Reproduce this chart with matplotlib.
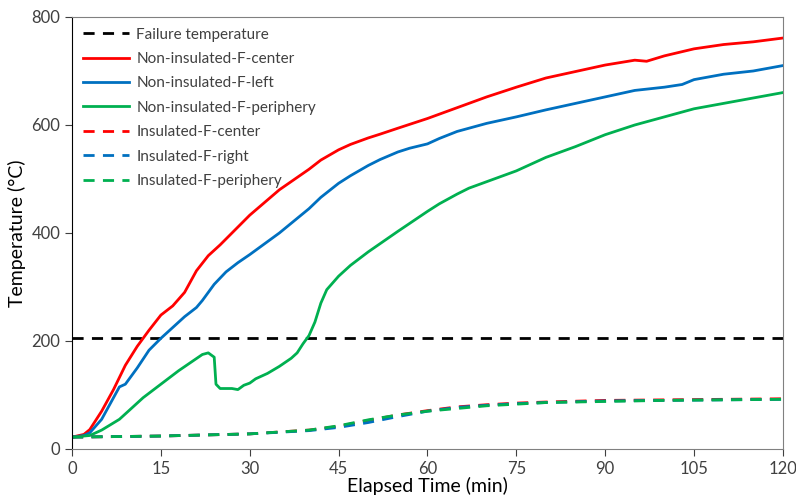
import matplotlib.pyplot as plt

# Non-insulated readings (time in min, temperature in °C)
t_nc = [0, 2, 3, 5, 7, 9, 11, 13, 15, 17, 19, 21, 23, 25, 30, 35, 40, 42, 45, 47, 50, 52, 55,
        60, 65, 70, 75, 80, 85, 90, 95, 97, 100, 105, 110, 115, 120]
nc_center = [22, 27, 36, 70, 110, 155, 190, 220, 248, 265, 290, 330, 358, 378, 433, 480, 518,
             535, 554, 564, 576, 583, 594, 612, 632, 652, 670, 687, 699, 711, 720, 718, 728, 741,
             749, 754, 761]

t_nl = [0, 2, 3, 5, 7, 8, 9, 11, 13, 15, 17, 19, 21, 22, 24, 26, 28, 30, 35, 40, 42, 45, 47,
        50, 52, 55, 57, 60, 62, 65, 70, 75, 80, 85, 90, 95, 100, 103, 105, 110, 115, 120]
nc_left = [22, 25, 30, 55, 95, 115, 120, 150, 183, 205, 225, 245, 262, 275, 305, 328, 345, 360,
           400, 445, 466, 492, 506, 525, 536, 550, 557, 565, 575, 588, 603, 615, 628, 640, 652,
           664, 670, 675, 684, 694, 700, 710]

t_np = [0, 3, 5, 8, 10, 12, 15, 18, 20, 22, 23, 24, 24.3, 25, 27, 28, 29, 30, 31, 33, 35, 37,
        38, 39, 40, 41, 42, 43, 45, 47, 50, 55, 60, 62, 65, 67, 70, 75, 80, 85, 90, 95, 100,
        105, 110, 115, 120]
nc_periph = [22, 25, 35, 55, 75, 95, 120, 145, 160, 175, 178, 170, 120, 112, 112, 110, 118, 122,
             130, 140, 153, 168, 178, 195, 210, 235, 270, 295, 320, 340, 365, 403, 440, 454,
             472, 483, 495, 515, 540, 560, 582, 600, 615, 630, 640, 650, 660]

# Insulated readings
t_ins = [0, 15, 30, 40, 45, 50, 55, 60, 65, 70, 75, 80, 90, 100, 110, 120]
ins_center = [22, 24, 28, 35, 42, 53, 63, 71, 78, 82, 85, 87, 90, 91, 92, 93]
ins_right = [22, 24, 28, 34, 40, 49, 60, 70, 77, 81, 84, 86, 89, 90, 91, 92]
ins_periph = [22, 24, 28, 35, 43, 54, 63, 70, 75, 80, 83, 86, 88, 90, 91, 92]

failure_temp = 205

plt.rcParams['font.family'] = ['Lato', 'DejaVu Sans']

fig = plt.figure(figsize=(7.96, 4.98), dpi=100)
ax = fig.add_axes([0.0905, 0.0984, 0.893, 0.8675])

red, blue, green = '#ff0000', '#0070c0', '#00b050'
dash = (0, (4, 3))

ax.axhline(failure_temp, color='black', lw=2, ls=dash, label='Failure temperature')
ax.plot(t_nc, nc_center, color=red, lw=2, label='Non-insulated-F-center')
ax.plot(t_nl, nc_left, color=blue, lw=2, label='Non-insulated-F-left')
ax.plot(t_np, nc_periph, color=green, lw=2, label='Non-insulated-F-periphery')
ax.plot(t_ins, ins_center, color=red, lw=2, ls=dash, label='Insulated-F-center')
ax.plot(t_ins, ins_right, color=blue, lw=2, ls=dash, label='Insulated-F-right')
ax.plot(t_ins, ins_periph, color=green, lw=2, ls=dash, label='Insulated-F-periphery')

ax.set_xlim(0, 120)
ax.set_ylim(0, 800)
ax.set_xticks(range(0, 121, 15))
ax.set_yticks(range(0, 801, 200))
ax.tick_params(labelsize=12, colors='#404040', direction='out', length=5)
ax.set_xlabel('Elapsed Time (min)', fontsize=14, color='black', labelpad=0)
ax.set_ylabel('Temperature (°C)', fontsize=14, color='black', labelpad=4)

for s in ['top', 'right', 'bottom']:
    ax.spines[s].set_color('#808080')
ax.spines['left'].set_color('black')

ax.legend(loc='upper left', frameon=False, fontsize=11, handlelength=3.0,
          handletextpad=0.5, labelspacing=0.68, borderaxespad=0.3, labelcolor='#404040')

fig.savefig('out.png', dpi=100)
